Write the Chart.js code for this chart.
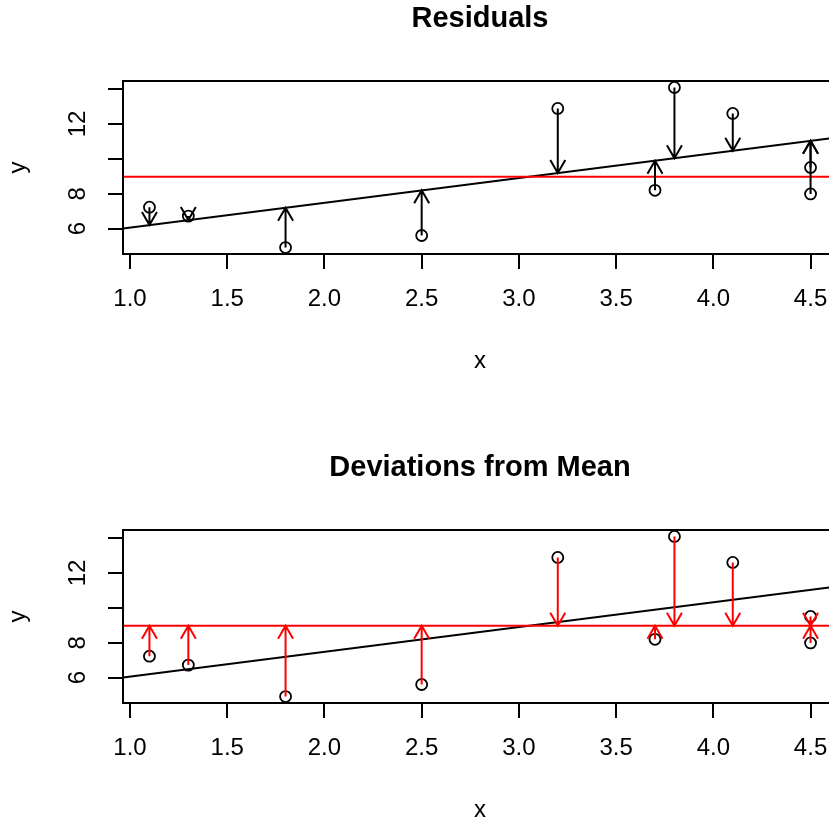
<!DOCTYPE html>
<html>
<head>
<meta charset="utf-8">
<script src="https://cdn.jsdelivr.net/npm/chart.js@4.4.1/dist/chart.umd.min.js"></script>
<style>
  html, body { margin: 0; padding: 0; background: #fff; overflow: hidden; width: 829px; height: 822px; }
  .panel { position: absolute; left: 0; width: 860px; height: 449px; }
</style>
</head>
<body>
<div class="panel" style="top:0"><canvas id="residuals" width="860" height="449"></canvas></div>
<div class="panel" style="top:449px"><canvas id="deviations" width="860" height="449"></canvas></div>
<script>
// values
const xs = [1.1, 1.3, 1.8, 2.5, 3.2, 3.7, 3.8, 4.1, 4.5, 4.5];
const ys = [7.23, 6.72, 4.92, 5.61, 12.89, 8.20, 14.09, 12.60, 9.51, 7.99];

const xTicks = [1.0, 1.5, 2.0, 2.5, 3.0, 3.5, 4.0, 4.5];
const xTickLabels = ['1.0', '1.5', '2.0', '2.5', '3.0', '3.5', '4.0', '4.5'];
const yTicks = [6, 8, 10, 12, 14];
const yTickLabels = ['6', '8', '', '12', ''];   // R drops 10 and 14 (overlap)

const xLimits = [0.964, 4.636];
const yLimits = [4.55, 14.46];

const FONT = '"Liberation Sans", Arial, Helvetica, sans-serif';

// least squares line and mean of y
const n = xs.length;
const meanX = xs.reduce((a, b) => a + b, 0) / n;
const meanY = ys.reduce((a, b) => a + b, 0) / n;
let sxy = 0, sxx = 0;
for (let i = 0; i < n; i++) {
    sxy += (xs[i] - meanX) * (ys[i] - meanY);
    sxx += (xs[i] - meanX) * (xs[i] - meanX);
}
const slope = sxy / sxx;
const intercept = meanY - slope * meanX;
const fitted = xs.map(x => intercept + slope * x);
const means = xs.map(() => meanY);

// box round the plot region
const boxPlugin = {
    id: 'box',
    afterDraw(chart) {
        const a = chart.chartArea;
        const ctx = chart.ctx;
        ctx.save();
        ctx.strokeStyle = '#000';
        ctx.lineWidth = 2;
        ctx.strokeRect(a.left, a.top, a.right - a.left, a.bottom - a.top);
        ctx.restore();
    }
};

// arrows from each point to a target value
function arrowPlugin(targets, color) {
    return {
        id: 'arrows',
        afterDatasetsDraw(chart) {
            const ctx = chart.ctx;
            const sx = chart.scales.x, sy = chart.scales.y;
            ctx.save();
            ctx.strokeStyle = color;
            ctx.lineWidth = 2;
            for (let i = 0; i < xs.length; i++) {
                const px = sx.getPixelForValue(xs[i]);
                const p0 = sy.getPixelForValue(ys[i]);
                const p1 = sy.getPixelForValue(targets[i]);
                const dir = p1 > p0 ? 1 : -1;
                ctx.beginPath();
                ctx.moveTo(px, p0);
                ctx.lineTo(px, p1);
                ctx.moveTo(px - 7.5, p1 - dir * 13);
                ctx.lineTo(px, p1);
                ctx.lineTo(px + 7.5, p1 - dir * 13);
                ctx.stroke();
            }
            ctx.restore();
        }
    };
}

function drawPanel(id, title, targets, arrowColor) {
    new Chart(document.getElementById(id), {
        type: 'scatter',
        data: {
            datasets: [
                {
                    data: xs.map((x, i) => ({ x: x, y: ys[i] })),
                    pointStyle: 'circle',
                    pointRadius: 5.5,
                    pointBorderWidth: 1.8,
                    borderColor: '#000',
                    backgroundColor: 'rgba(0,0,0,0)',
                    order: 3
                },
                {
                    data: xLimits.map(x => ({ x: x, y: intercept + slope * x })),
                    showLine: true,
                    pointRadius: 0,
                    borderColor: '#000',
                    borderWidth: 2,
                    order: 2
                },
                {
                    data: xLimits.map(x => ({ x: x, y: meanY })),
                    showLine: true,
                    pointRadius: 0,
                    borderColor: '#ff0000',
                    borderWidth: 2,
                    order: 1
                }
            ]
        },
        options: {
            responsive: false,
            animation: false,
            events: [],
            layout: { padding: { left: 0, right: 23, top: 0, bottom: 0 } },
            plugins: {
                legend: { display: false },
                tooltip: { enabled: false },
                title: {
                    display: true,
                    text: title,
                    fullSize: false,
                    color: '#000',
                    font: { size: 29, weight: 'bold', family: FONT },
                    padding: { top: 2, bottom: 44.2 }
                }
            },
            scales: {
                x: {
                    type: 'linear',
                    min: xLimits[0],
                    max: xLimits[1],
                    afterBuildTicks: s => { s.ticks = xTicks.map(v => ({ value: v })); },
                    afterFit: s => { s.height = 195; },
                    ticks: {
                        autoSkip: false, minRotation: 0, maxRotation: 0, padding: 16,
                        color: '#000', font: { size: 24, family: FONT },
                        callback: (v, i) => xTickLabels[i]
                    },
                    grid: { display: true, drawOnChartArea: false, drawTicks: true, tickLength: 15, color: '#000', lineWidth: 2 },
                    border: { display: false },
                    title: { display: true, text: 'x', color: '#000', font: { size: 24, family: FONT }, padding: { top: 0, bottom: 73 } }
                },
                y: {
                    type: 'linear',
                    min: yLimits[0],
                    max: yLimits[1],
                    afterBuildTicks: s => { s.ticks = yTicks.map(v => ({ value: v })); },
                    afterFit: s => { s.width = 123; },
                    ticks: {
                        autoSkip: false, minRotation: 90, maxRotation: 90, crossAlign: 'center', padding: 16,
                        color: '#000', font: { size: 24, family: FONT },
                        callback: (v, i) => yTickLabels[i]
                    },
                    grid: { display: true, drawOnChartArea: false, drawTicks: true, tickLength: 15, color: '#000', lineWidth: 2 },
                    border: { display: false },
                    title: { display: true, text: 'y', color: '#000', font: { size: 24, family: FONT }, padding: { top: 4, bottom: 0 } }
                }
            }
        },
        plugins: [boxPlugin, arrowPlugin(targets, arrowColor)]
    });
}

drawPanel('residuals', 'Residuals', fitted, '#000');
drawPanel('deviations', 'Deviations from Mean', means, '#ff0000');
</script>
</body>
</html>
